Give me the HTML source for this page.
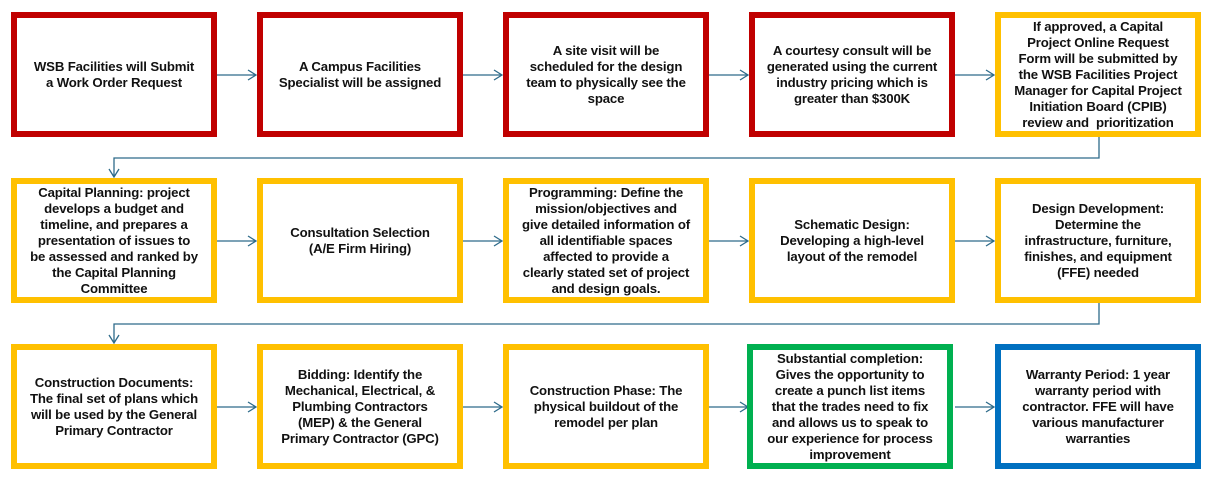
<!DOCTYPE html>
<html><head><meta charset="utf-8"><style>
body{margin:0;width:1212px;height:486px;background:#fff;position:relative;overflow:hidden;font-family:"Liberation Sans",sans-serif;}
.b{position:absolute;box-sizing:border-box;width:206px;height:125px;border:6px solid #ffc000;display:flex;align-items:center;justify-content:center;text-align:center;font-weight:bold;font-size:13.2px;line-height:16px;color:#111;white-space:nowrap;letter-spacing:-0.15px}
.r{border-color:#c00000}.g{border-color:#00b050}.u{border-color:#0070c0}
svg{position:absolute;left:0;top:0}
</style></head><body>
<svg width="1212" height="486" fill="none" stroke="#2e6b8a" stroke-width="1.3">
<g id="a">
<path d="M217 75H256M248 70l8 5-8 5"/>
<path d="M463 75H502M494 70l8 5-8 5"/>
<path d="M709 75H748M740 70l8 5-8 5"/>
<path d="M955 75H994M986 70l8 5-8 5"/>
</g>
<use href="#a" y="166"/>
<use href="#a" y="332"/>
<path d="M1099 137V158H114V177M109 169l5 8 5-8"/>
<path d="M1099 303V324H114V343M109 335l5 8 5-8"/>
</svg>
<div class="b r" style="left:11px;top:12px">WSB Facilities will Submit<br>a Work Order Request</div>
<div class="b r" style="left:257px;top:12px">A Campus Facilities<br>Specialist will be assigned</div>
<div class="b r" style="left:503px;top:12px">A site visit will be<br>scheduled for the design<br>team to physically see the<br>space</div>
<div class="b r" style="left:749px;top:12px">A courtesy consult will be<br>generated using the current<br>industry pricing which is<br>greater than $300K</div>
<div class="b" style="left:995px;top:12px">If approved, a Capital<br>Project Online Request<br>Form will be submitted by<br>the WSB Facilities Project<br>Manager for Capital Project<br>Initiation Board (CPIB)<br>review and &nbsp;prioritization</div>

<div class="b" style="left:11px;top:178px">Capital Planning: project<br>develops a budget and<br>timeline, and prepares a<br>presentation of issues to<br>be assessed and ranked by<br>the Capital Planning<br>Committee</div>
<div class="b" style="left:257px;top:178px">Consultation Selection<br>(A/E Firm Hiring)</div>
<div class="b" style="left:503px;top:178px">Programming: Define the<br>mission/objectives and<br>give detailed information of<br>all identifiable spaces<br>affected to provide a<br>clearly stated set of project<br>and design goals.</div>
<div class="b" style="left:749px;top:178px">Schematic Design:<br>Developing a high-level<br>layout of the remodel</div>
<div class="b" style="left:995px;top:178px">Design Development:<br>Determine the<br>infrastructure, furniture,<br>finishes, and equipment<br>(FFE) needed</div>

<div class="b" style="left:11px;top:344px">Construction Documents:<br>The final set of plans which<br>will be used by the General<br>Primary Contractor</div>
<div class="b" style="left:257px;top:344px">Bidding: Identify the<br>Mechanical, Electrical, &amp;<br>Plumbing Contractors<br>(MEP) &amp; the General<br>Primary Contractor (GPC)</div>
<div class="b" style="left:503px;top:344px">Construction Phase: The<br>physical buildout of the<br>remodel per plan</div>
<div class="b g" style="left:747px;top:344px">Substantial completion:<br>Gives the opportunity to<br>create a punch list items<br>that the trades need to fix<br>and allows us to speak to<br>our experience for process<br>improvement</div>
<div class="b u" style="left:995px;top:344px">Warranty Period: 1 year<br>warranty period with<br>contractor. FFE will have<br>various manufacturer<br>warranties</div>
</body></html>
